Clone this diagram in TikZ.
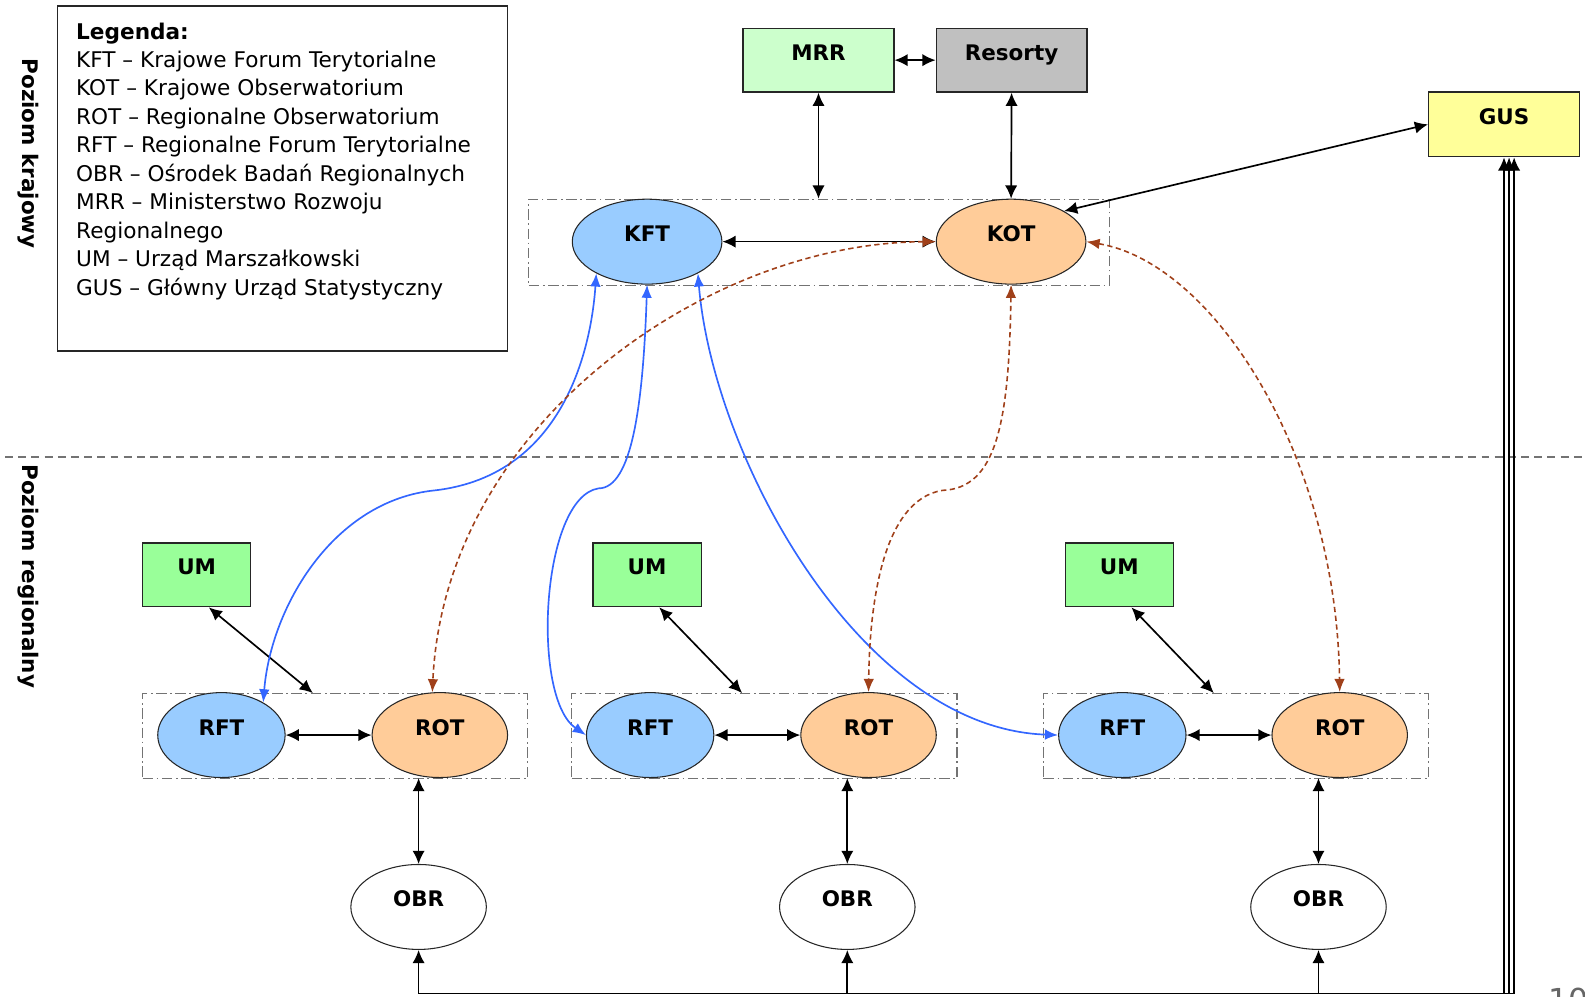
\documentclass[tikz,border=0pt]{standalone}
\usepackage{fontspec}
\setmainfont{DejaVu Sans}
\usetikzlibrary{shapes.geometric,arrows.meta,calc}
\definecolor{kftblue}{HTML}{99CCFF}
\definecolor{kotorange}{HTML}{FFCC99}
\definecolor{mrrgreen}{HTML}{CCFFCC}
\definecolor{resgray}{HTML}{C0C0C0}
\definecolor{gusyellow}{HTML}{FFFF99}
\definecolor{umgreen}{HTML}{99FF99}
\definecolor{linkblue}{HTML}{3366FF}
\definecolor{linkbrown}{HTML}{A0401A}
\newcommand\pxu{0.020222cm}
\begin{document}
\begin{tikzpicture}[x=\pxu,y=-\pxu,
  lbl/.style={font=\fontsize{12.2}{14}\selectfont\bfseries, text height=6pt, text depth=6pt, inner sep=0pt},
  sqbox/.style={lbl, draw=black!85, line width=0.8pt, rectangle},
  ell/.style={lbl, draw=black!85, line width=0.6pt, ellipse, minimum height=84*\pxu},
  grpbox/.style={draw=black!55, line width=0.6pt, rectangle, inner sep=0pt,
    dash pattern=on 6pt off 2pt on 1pt off 2pt},
  conn/.style={line width=0.95pt, {Latex[length=7.5pt,width=7pt]}-{Latex[length=7.5pt,width=7pt]}},
  blueconn/.style={line width=0.95pt, draw=linkblue, {Latex[length=7.5pt,width=6pt]}-{Latex[length=7.5pt,width=6pt]}},
  brownconn/.style={line width=0.9pt, draw=linkbrown, dash pattern=on 3pt off 2pt, {Latex[length=7.5pt,width=6pt]}-{Latex[length=7.5pt,width=6pt]}}
]
\useasboundingbox (0,0) rectangle (1567.6,985.1);

% legend
\node[draw=black!85, line width=0.8pt, rectangle, minimum width=445*\pxu, minimum height=341*\pxu, inner sep=0pt] (legend) at (279.5,176.5) {};
\node[anchor=north west, inner sep=0pt, align=left, font=\fontsize{12.3}{16.2}\selectfont] (legendtext) at (75,22)
{\textbf{Legenda:}\\
KFT – Krajowe Forum Terytorialne\\
KOT – Krajowe Obserwatorium\\
ROT – Regionalne Obserwatorium\\
RFT – Regionalne Forum Terytorialne\\
OBR – Ośrodek Badań Regionalnych\\
MRR – Ministerstwo Rozwoju\\
Regionalnego\\
UM – Urząd Marszałkowski\\
GUS – Główny Urząd Statystyczny};

% level labels
\node[lbl, rotate=-90] (lvlnat) at (22,152) {Poziom krajowy};
\node[lbl, rotate=-90] (lvlreg) at (22,570) {Poziom regionalny};
\coordinate (sepL) at (5,452);
\coordinate (sepR) at (1568,452);
\draw[black!55, line width=0.7pt, dash pattern=on 4.5pt off 3pt] (sepL) -- (sepR);

% top level
\node[sqbox, fill=mrrgreen, minimum width=149*\pxu, minimum height=63*\pxu] (mrr) at (809.5,59.5) {MRR};
\node[sqbox, fill=resgray, minimum width=149*\pxu, minimum height=63*\pxu] (res) at (1000.5,59.5) {Resorty};
\node[sqbox, fill=gusyellow, minimum width=149*\pxu, minimum height=64*\pxu] (gus) at (1487.5,123) {GUS};
\node[grpbox, minimum width=574*\pxu, minimum height=85*\pxu] (topgrp) at (810,239.5) {};
\node[ell, fill=kftblue, minimum width=148*\pxu] (kft) at (640,239) {KFT};
\node[ell, fill=kotorange, minimum width=148*\pxu] (kot) at (1000,239) {KOT};

% regional
\foreach \i/\gx/\rf/\ro/\ob/\um in {1/331.5/219/435/414/194.5, 2/756/643/859/838/640, 3/1222.5/1110/1325/1304/1107}{
  \node[sqbox, fill=umgreen, minimum width=107*\pxu, minimum height=63*\pxu] (um\i) at (\um,568.5) {UM};
  \node[grpbox, minimum width=381*\pxu, minimum height=84*\pxu] (grp\i) at (\gx,728) {};
  \node[ell, fill=kftblue, minimum width=126*\pxu] (rft\i) at (\rf,727) {RFT};
  \node[ell, fill=kotorange, minimum width=134*\pxu] (rot\i) at (\ro,727) {ROT};
  \node[ell, fill=white, minimum width=134*\pxu] (obr\i) at (\ob,897) {OBR};
}

% black connectors
\draw[conn] (mrr) -- (res);
\draw[conn] (mrr.south) -- (mrr.south |- topgrp.north);
\draw[conn] (res.south) -- (kot.north);
\draw[conn] (kot.30) -- (gus.west);
\draw[conn] (kft.east) -- (kot.west);
\foreach \i in {1,2,3}{
  \draw[conn] ($(um\i.south)+(12,0)$) -- ($(grp\i.north west)+(169,0)$);
  \draw[conn] (rft\i.east) -- (rot\i.west);
  \draw[conn] (obr\i.north) -- (obr\i.north |- rot\i.south);
}
\coordinate (gb1) at ($(gus.south)+(10,827)$);
\coordinate (gb2) at ($(gus.south)+(5,827)$);
\coordinate (gb3) at ($(gus.south)+(0,827)$);
\draw[conn] (obr1.south) |- (gb1) -- ($(gus.south)+(10,0)$);
\draw[conn] (obr2.south) |- (gb2) -- ($(gus.south)+(5,0)$);
\draw[conn] (obr3.south) |- (gb3) -- ($(gus.south)+(0,0)$);

% blue curves
\draw[blueconn] (kft.212) .. controls (585,340) and (560,470) .. (430,485)
   .. controls (330,495) and (268,600) .. (rft1.38);
\draw[blueconn] (kft.south) .. controls (636,400) and (625,483) .. (592,483)
   .. controls (535,492) and (525,690) .. (rft2.west);
\draw[blueconn] (kft.328) .. controls (705,450) and (850,720) .. (rft3.west);

% brown dashed curves
\draw[brownconn] (kot.west) .. controls (700,240) and (440,420) .. (rot1.100);
\draw[brownconn] (kot.south) .. controls (998,420) and (985,483) .. (932,485)
   .. controls (872,495) and (860,600) .. (rot2.north);
\draw[brownconn] (kot.east) .. controls (1200,260) and (1322,450) .. (rot3.north);

% page number (cut off at the page edge, as in the source)
\node[anchor=north west, inner sep=0pt, text=black!60, font=\fontsize{18}{20}\selectfont] (pagenum) at (1531,977) {10};
\end{tikzpicture}
\end{document}
